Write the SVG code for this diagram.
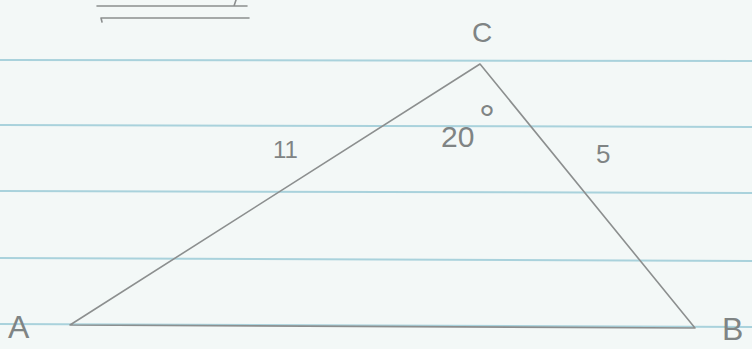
<svg xmlns="http://www.w3.org/2000/svg" width="752" height="349" viewBox="0 0 752 349">
<style>
.rule{stroke:#a9d2dc;stroke-width:2;fill:none}
.pen{stroke:#8c8f8f;stroke-width:1.6;fill:none;stroke-linecap:round;stroke-linejoin:round}
.lbl{font-family:"Liberation Sans",Arial,sans-serif;fill:#7f8484;font-weight:300}
</style>
<rect width="752" height="349" fill="#f3f8f7"/>
<g id="paper">
<line class="rule" x1="0" y1="60" x2="752" y2="61"/>
<line class="rule" x1="0" y1="125" x2="752" y2="127"/>
<line class="rule" x1="0" y1="191" x2="752" y2="193"/>
<line class="rule" x1="0" y1="258" x2="752" y2="261"/>
<line class="rule" x1="0" y1="324" x2="752" y2="327"/>
</g>
<g id="underline">
<path class="pen" d="M97 6 L247 6 M234 6 L236 0 M101 18 L249 18 M101 18 L102 22" stroke-width="2.2"/>
</g>
<g id="connectors">
<path class="pen" d="M70 325 L480 64 L695 328 Z"/>
</g>
<g id="A"><text class="lbl" x="8" y="338" font-size="32">A</text></g>
<g id="B"><text class="lbl" x="722" y="340" font-size="32">B</text></g>
<g id="C"><text class="lbl" x="472" y="42" font-size="28">C</text></g>
<g id="side11"><text class="lbl" x="273" y="158" font-size="24">11</text></g>
<g id="side5"><text class="lbl" x="596" y="163" font-size="26">5</text></g>
<g id="angle"><text class="lbl" x="441" y="147" font-size="30">20</text><text class="lbl" x="479" y="133" font-size="40">°</text></g>
</svg>
